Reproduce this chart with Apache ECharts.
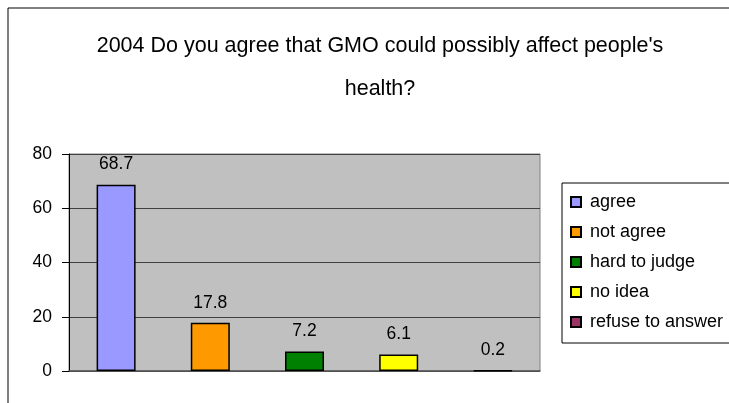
<!DOCTYPE html>
<html>
<head>
<meta charset="utf-8">
<script src="https://cdn.jsdelivr.net/npm/echarts@6/dist/echarts.min.js"></script>
<style>
  html, body { margin: 0; padding: 0; background: #fff; }
  #chart { width: 729px; height: 403px; }
</style>
</head>
<body>
<div id="chart"></div>
<script>
// Survey answers and their shares (percent)
const categories = ['agree', 'not agree', 'hard to judge', 'no idea', 'refuse to answer'];
const values = [68.7, 17.8, 7.2, 6.1, 0.2];
const colors = ['#9999FF', '#FF9900', '#008000', '#FFFF00', '#993366'];
const yTicks = [0, 20, 40, 60, 80];

const font = 'Liberation Sans, Arial, sans-serif';

// One series per answer so each gets its own legend entry; stacking keeps every bar centred in its slot
const series = categories.map((name, i) => ({
  name: name,
  type: 'bar',
  stack: 'answers',
  barWidth: 39,
  data: categories.map((_, j) => (j === i ? values[i] : '-')),
  itemStyle: { color: colors[i], borderColor: '#000', borderWidth: 1.5 },
  label: {
    show: true,
    position: 'top',
    distance: 11,
    color: '#000',
    fontFamily: font,
    fontSize: 17.5
  }
}));

const chart = echarts.init(document.getElementById('chart'), null, { renderer: 'canvas' });
chart.setOption({
  animation: false,
  backgroundColor: '#fff',
  title: {
    text: "2004 Do you agree that GMO could possibly affect people's\nhealth?",
    left: 375,
    top: 20,
    textAlign: 'center',
    textStyle: { fontFamily: font, fontSize: 21.5, fontWeight: 'normal', color: '#000', lineHeight: 43 }
  },
  graphic: [{
    type: 'rect',
    shape: { x: 8, y: 8, width: 900, height: 600 },
    style: { fill: 'none', stroke: '#000', lineWidth: 1 },
    z: -1
  }],
  legend: {
    orient: 'vertical',
    left: 562,
    top: 183,
    data: categories,
    itemWidth: 10,
    itemHeight: 10,
    itemGap: 10,
    padding: [9, 30, 11, 8],
    borderColor: '#000',
    borderWidth: 1,
    icon: 'rect',
    textStyle: { fontFamily: font, fontSize: 18, color: '#000', lineHeight: 20, padding: [0, 0, 0, 4] }
  },
  grid: {
    left: 69, right: 189, top: 154, bottom: 32,
    show: true,
    backgroundColor: '#C0C0C0',
    borderColor: '#808080',
    borderWidth: 1
  },
  xAxis: {
    type: 'category',
    data: categories,
    axisLine: { lineStyle: { color: '#555', width: 1.5 } },
    axisTick: { show: false },
    axisLabel: { show: false }
  },
  yAxis: {
    type: 'value',
    min: yTicks[0],
    max: yTicks[yTicks.length - 1],
    interval: yTicks[1] - yTicks[0],
    axisLine: { show: true, lineStyle: { color: '#000', width: 1 } },
    axisTick: { show: true, length: 7, lineStyle: { color: '#000' } },
    axisLabel: { color: '#000', fontFamily: font, fontSize: 17.5, margin: 17 },
    splitLine: { lineStyle: { color: '#404040', width: 1 } }
  },
  series: series
});
</script>
</body>
</html>
